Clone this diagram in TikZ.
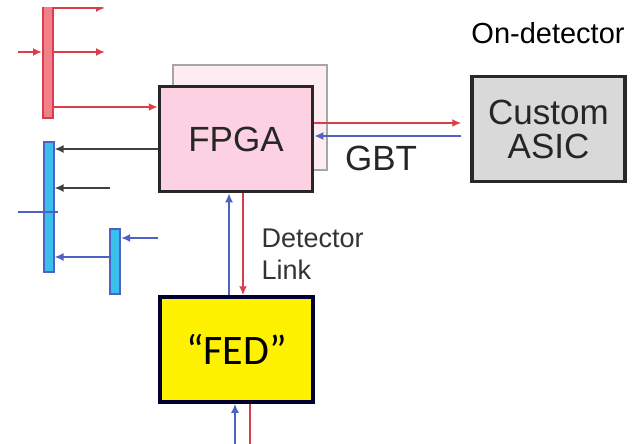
\documentclass[tikz,border=0pt]{standalone}
\usepackage{fontspec}
\setmainfont{Liberation Sans}
\newfontfamily\fedfont{Carlito}
\usetikzlibrary{arrows.meta}
\definecolor{linered}{RGB}{218, 62, 74}
\definecolor{lineblue}{RGB}{78, 98, 196}
\definecolor{barred}{RGB}{240, 128, 138}
\definecolor{barblue}{RGB}{58, 190, 236}
\definecolor{fpgapink}{RGB}{252, 210, 226}
\definecolor{backpink}{RGB}{253, 236, 242}
\definecolor{asicgray}{RGB}{217, 217, 217}
\definecolor{boxborder}{RGB}{40, 40, 40}
\tikzset{
  >={Latex[length=9pt, width=8pt]},
  box/.style={draw=boxborder, line width=3.5pt, minimum width=153pt, minimum height=105pt, inner sep=0pt, align=center},
  bar/.style={line width=2pt, minimum width=10pt, inner sep=0pt},
  redline/.style={draw=linered, line width=2.4pt},
  blueline/.style={draw=lineblue, line width=2.4pt},
  blackline/.style={draw=black!75, line width=2.6pt},
  boxtext/.style={font=\fontsize{35}{40}\selectfont, text=black!85},
}
\begin{document}
\begin{tikzpicture}[x=1pt, y=-1pt]
\useasboundingbox (0,0) rectangle (632,444);
\clip (0,8) rectangle (632,444);

 %boxes
 \node[box, draw=black!35, line width=2.4pt, fill=backpink, minimum width=154pt] (back) at (250,117.5) {};
 \node[box, fill=fpgapink, boxtext] (fpga) at (236,139) {FPGA};
 \node[box, fill=asicgray, boxtext] (asic) at (548.5,129) {Custom\\[-6pt]ASIC};
 \node[box, fill=yellow, draw=black!80!blue, font=\fedfont\fontsize{42}{46}\selectfont] (fed) at (236.5,349.5) {“FED”};

 %bars
 \node[bar, draw=linered, fill=barred, minimum height=116pt] (redbar) at (48,60) {};
 \node[bar, draw=lineblue, fill=barblue, minimum height=130pt] (bluebar) at (48.5,207) {};
 \node[bar, draw=lineblue, fill=barblue, minimum height=65pt] (smallbar) at (115,261.5) {};

 %free ends
 \coordinate (rtop) at (105,8);
 \coordinate (rin) at (18,52);
 \coordinate (rout) at (105,52);
 \coordinate (rfpga) at (0,107);
 \coordinate (kfpga) at (0,149);
 \coordinate (kin) at (110,188);
 \coordinate (bin) at (18,212);
 \coordinate (bout) at (58,212);
 \coordinate (bsmall) at (0,257);
 \coordinate (bright) at (158,238);
 \coordinate (gbtred) at (0,123);
 \coordinate (gbtblue) at (0,136);
 \coordinate (dlblue) at (229,0);
 \coordinate (dlred) at (243,0);
 \coordinate (fedblue) at (235,444);
 \coordinate (fedred) at (250,444);

 %red links
 \draw[redline, ->] (rtop -| redbar.east) -- (rtop);
 \draw[redline, ->] (rin) -- (rin -| redbar.west);
 \draw[redline, ->] (rout -| redbar.east) -- (rout);
 \draw[redline, ->] (rfpga -| redbar.east) -- (rfpga -| fpga.west);

 %black and blue links
 \draw[blackline, ->] (kfpga -| fpga.west) -- (kfpga -| bluebar.east);
 \draw[blackline, ->] (kin) -- (kin -| bluebar.east);
 \draw[blueline, line width=1.8pt] (bin) -- (bout);
 \draw[blueline, ->] (bsmall -| smallbar.west) -- (bsmall -| bluebar.east);
 \draw[blueline, ->] (bright) -- (bright -| smallbar.east);

 %GBT
 \draw[redline, ->, shorten >=9pt] (gbtred -| fpga.east) -- (gbtred -| asic.west);
 \draw[blueline, ->, shorten <=9pt] (gbtblue -| asic.west) -- (gbtblue -| fpga.east);

 %detector link
 \draw[blueline, ->] (dlblue |- fed.north) -- (dlblue |- fpga.south);
 \draw[redline, ->] (dlred |- fpga.south) -- (dlred |- fed.north);
 \draw[blueline, ->] (fedblue) -- (fedblue |- fed.south);
 \draw[redline] (fedred |- fed.south) -- (fedred);

 %labels
 \node[boxtext] (gbt) at (381,158) {GBT};
 \node[font=\fontsize{27}{32}\selectfont, text=black!80, align=left, anchor=west] (dlink) at (258,254) {Detector\\Link};
 \node[font=\fontsize{29}{34}\selectfont] (ondet) at (548,33) {On-detector};
\end{tikzpicture}
\end{document}
